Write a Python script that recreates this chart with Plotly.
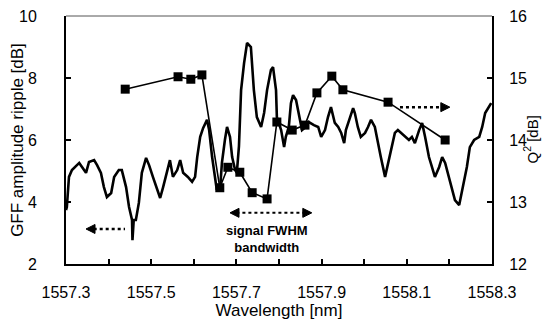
import plotly.graph_objects as go

# GFF amplitude ripple trace (left axis)
wl = [1557.300, 1557.302, 1557.307, 1557.314, 1557.331, 1557.338, 1557.347, 1557.354, 1557.366, 1557.373,
      1557.382, 1557.389, 1557.396, 1557.406, 1557.413, 1557.424, 1557.431, 1557.441, 1557.448, 1557.455,
      1557.456, 1557.459, 1557.464, 1557.471, 1557.478, 1557.488, 1557.495, 1557.504, 1557.514, 1557.521,
      1557.528, 1557.537, 1557.544, 1557.551, 1557.561, 1557.568, 1557.575, 1557.586, 1557.596, 1557.603,
      1557.608, 1557.615, 1557.622, 1557.631, 1557.636, 1557.643, 1557.650, 1557.654, 1557.662, 1557.666,
      1557.673, 1557.678, 1557.685, 1557.690, 1557.697, 1557.701, 1557.706, 1557.711, 1557.718, 1557.725,
      1557.734, 1557.737, 1557.741, 1557.748, 1557.758, 1557.765, 1557.772, 1557.781, 1557.786, 1557.793,
      1557.795, 1557.805, 1557.812, 1557.816, 1557.823, 1557.828, 1557.833, 1557.840, 1557.847, 1557.854,
      1557.863, 1557.870, 1557.882, 1557.892, 1557.899, 1557.908, 1557.915, 1557.922, 1557.931, 1557.939,
      1557.946, 1557.953, 1557.957, 1557.967, 1557.974, 1557.978, 1557.985, 1557.992, 1558.002, 1558.009,
      1558.016, 1558.025, 1558.032, 1558.039, 1558.049, 1558.056, 1558.063, 1558.072, 1558.079, 1558.091,
      1558.096, 1558.105, 1558.112, 1558.119, 1558.129, 1558.136, 1558.143, 1558.152, 1558.159, 1558.166,
      1558.176, 1558.183, 1558.190, 1558.199, 1558.206, 1558.213, 1558.223, 1558.227, 1558.234, 1558.241,
      1558.248, 1558.258, 1558.270, 1558.277, 1558.284, 1558.293, 1558.298]
ripple = [3.74, 3.84, 4.81, 5.03, 5.26, 5.10, 4.94, 5.29, 5.35, 5.19,
          4.94, 4.48, 4.16, 4.29, 4.81, 5.03, 5.03, 4.48, 3.84, 3.42,
          2.77, 3.42, 3.42, 3.97, 4.94, 5.42, 5.19, 4.81, 4.39, 4.13,
          4.48, 5.03, 5.35, 4.81, 5.03, 5.35, 4.94, 4.81, 4.65, 4.81,
          5.45, 6.10, 6.39, 6.65, 6.32, 5.45, 4.71, 4.39, 4.48, 5.26,
          6.00, 6.42, 6.10, 5.45, 5.03, 4.94, 5.80, 7.61, 8.48, 9.13,
          9.00, 8.48, 7.61, 6.74, 6.42, 6.87, 7.61, 8.26, 8.35, 7.61,
          6.74, 6.32, 5.77, 6.10, 6.42, 7.19, 7.45, 7.29, 6.74, 6.32,
          6.42, 6.58, 6.48, 6.42, 6.10, 6.32, 6.74, 7.06, 6.55, 6.42,
          6.23, 5.90, 6.32, 6.74, 7.03, 6.87, 6.42, 6.10, 6.23, 6.42,
          6.65, 6.42, 5.90, 5.45, 4.81, 5.26, 5.68, 6.23, 6.32, 6.16,
          6.10, 6.00, 6.10, 5.90, 6.32, 6.55, 6.10, 5.45, 5.13, 4.81,
          5.13, 5.45, 5.26, 4.81, 4.39, 4.06, 3.90, 4.16, 4.61, 5.13,
          5.77, 6.00, 6.10, 6.42, 6.87, 7.06, 7.19]

# Q^2 measurements (right axis)
q_wl = [1557.439, 1557.563, 1557.593, 1557.619, 1557.661, 1557.680, 1557.708, 1557.737, 1557.772,
        1557.795, 1557.831, 1557.861, 1557.889, 1557.924, 1557.950, 1558.056, 1558.190]
q2 = [14.82, 15.02, 14.98, 15.05, 13.23, 13.56, 13.48, 13.15, 13.05,
      14.29, 14.16, 14.24, 14.76, 15.03, 14.81, 14.61, 14.00]

x_ticks = [1557.3, 1557.5, 1557.7, 1557.9, 1558.1, 1558.3]
x_labels = ["1557.3", "1557.5", "1557.7", "1557.9", "1558.1", "1558.3"]
y_ticks = [2, 4, 6, 8, 10]
y2_ticks = [12, 13, 14, 15, 16]

FONT = "Liberation Sans, Arial, sans-serif"

fig = go.Figure()
fig.add_trace(go.Scatter(x=wl, y=ripple, mode="lines",
                         line=dict(color="black", width=2.6), showlegend=False))
fig.add_trace(go.Scatter(x=q_wl, y=q2, yaxis="y2", mode="lines+markers",
                         line=dict(color="black", width=1.6),
                         marker=dict(symbol="square", size=9, color="black"),
                         showlegend=False))

axis_common = dict(showgrid=False, zeroline=False, showline=True, linecolor="black",
                   linewidth=2, ticks="inside", ticklen=5, tickwidth=1.5, tickcolor="black",
                   automargin=False, ticklabeloverflow="allow",
                   tickfont=dict(family=FONT, size=16, color="black"))

# the page body has an 8px margin, so the figure is sized to fit inside the window
fig.update_layout(
    width=548, height=317,
    margin=dict(l=58, r=64, t=8, b=61),
    paper_bgcolor="white", plot_bgcolor="white",
    xaxis=dict(range=[1557.3, 1558.3], tickvals=x_ticks, ticktext=x_labels,
               ticklabelstandoff=13,
               minor=dict(dtick=0.1, tick0=1557.3, ticks="inside", ticklen=5,
                          tickwidth=1.5, tickcolor="black", showgrid=False),
               title=dict(text="Wavelength [nm]", font=dict(family=FONT, size=17, color="black"),
                          standoff=4),
               **axis_common),
    yaxis=dict(range=[2, 10], tickvals=y_ticks, ticklabelstandoff=24,
               title=dict(text="GFF amplitude ripple [dB]",
                          font=dict(family=FONT, size=17, color="black"), standoff=0),
               **axis_common),
    yaxis2=dict(range=[12, 16], tickvals=y2_ticks, overlaying="y", side="right",
                ticklabelstandoff=12, **axis_common),
)

# right axis title
fig.add_annotation(x=(542 - 66) / 426.0, y=0.5, xref="paper", yref="paper", showarrow=False,
                   text="Q<sup>2</sup> [dB]", textangle=-90,
                   font=dict(family=FONT, size=15, color="black"))

# thin top border
fig.add_shape(type="line", xref="paper", yref="paper", x0=0, x1=1, y0=1, y1=1,
              line=dict(color="#555", width=1))

PX = 1.0 / 426.0  # nm per pixel


def arrow_head(xtip, y, direction, yref, ypx):
    """Filled triangular arrowhead; direction -1 points left, +1 right."""
    L = 9 * PX
    h = 4.5 * ypx
    xb = xtip - direction * L
    fig.add_shape(type="path", xref="x", yref=yref,
                  path=f"M {xtip} {y} L {xb} {y + h} L {xb} {y - h} Z",
                  fillcolor="black", line=dict(color="black", width=1))


# left-pointing arrow (ripple -> left axis)
fig.add_shape(type="line", xref="x", yref="y", x0=1557.365, x1=1557.4385, y0=3.13, y1=3.13,
              line=dict(color="black", width=2.5, dash="dot"))
arrow_head(1557.347, 3.13, -1, "y", 1 / 31.0)
# right-pointing arrow (Q^2 -> right axis)
fig.add_shape(type="line", xref="x", yref="y2", x0=1558.084, x1=1558.185, y0=14.53, y1=14.53,
              line=dict(color="black", width=2.5, dash="dot"))
arrow_head(1558.201, 14.53, 1, "y2", 1 / 62.0)
# FWHM double arrow
fig.add_shape(type="line", xref="x", yref="y", x0=1557.70, x1=1557.862, y0=3.65, y1=3.65,
              line=dict(color="black", width=2, dash="dot"))
arrow_head(1557.685, 3.65, -1, "y", 1 / 31.0)
arrow_head(1557.877, 3.65, 1, "y", 1 / 31.0)
fig.add_annotation(x=1557.772, y=2.81, xref="x", yref="y", showarrow=False,
                   text="<b>signal FWHM</b><br><b>bandwidth</b>",
                   font=dict(family=FONT, size=13, color="black"), align="center")

fig.write_html("out.html")
